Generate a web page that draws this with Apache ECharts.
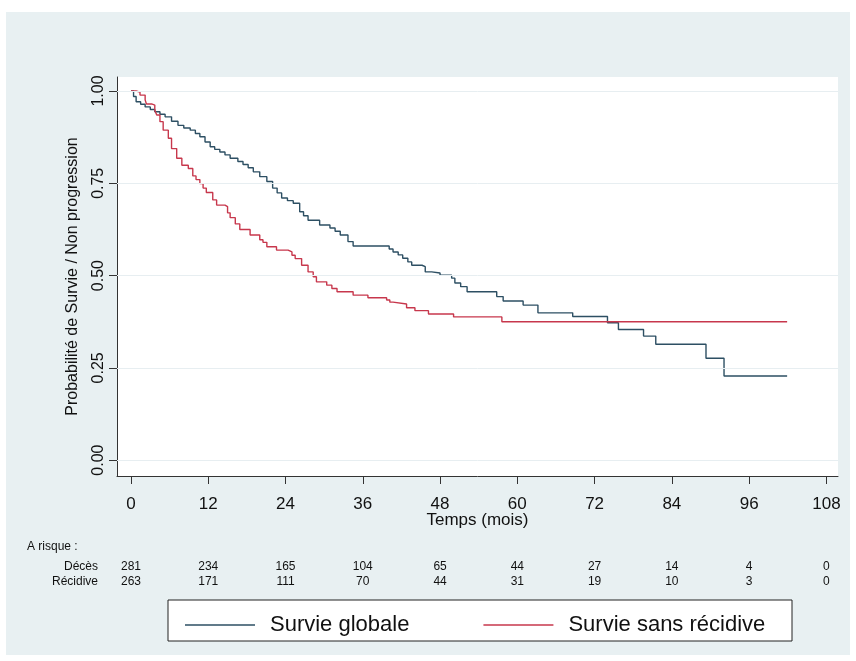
<!DOCTYPE html>
<html>
<head>
<meta charset="utf-8">
<script src="https://cdn.jsdelivr.net/npm/echarts@6/dist/echarts.min.js"></script>
<style>
html,body{margin:0;padding:0;background:#fff;}
#chart{width:856px;height:661px;}
</style>
</head>
<body>
<div id="chart"></div>
<script>
// ---- data ----
const xTicks = [0, 12, 24, 36, 48, 60, 72, 84, 96, 108];
const yTicks = [0, 0.25, 0.5, 0.75, 1];
const yTickLabels = ['0.00', '0.25', '0.50', '0.75', '1.00'];
const atRiskDeces = [281, 234, 165, 104, 65, 44, 27, 14, 4, 0];
const atRiskRecidive = [263, 171, 111, 70, 44, 31, 19, 10, 3, 0];
const seriesNames = ['Survie globale', 'Survie sans récidive'];
const survieGlobale = [
  [0, 1.0], [0.4, 0.985], [0.8, 0.971], [1.5, 0.964], [2.2, 0.957], [3.0, 0.950], [3.7, 0.944],
  [4.5, 0.937], [5.3, 0.930], [6.3, 0.918], [7.3, 0.907],
  [8.2, 0.900], [9.2, 0.894], [10.0, 0.885], [10.7, 0.876], [11.5, 0.862], [12.3, 0.849], [13.0, 0.842],
  [13.8, 0.835], [14.6, 0.827], [15.4, 0.818],
  [16.6, 0.809], [17.4, 0.801], [18.2, 0.792], [19.0, 0.781], [20.0, 0.768], [21.1, 0.755],
  [22.0, 0.737], [22.7, 0.724], [23.4, 0.710], [24.3, 0.703], [25.2, 0.696], [26.2, 0.673], [26.8, 0.662],
  [27.5, 0.650], [29.3, 0.637], [30.9, 0.629], [31.7, 0.620], [32.5, 0.610], [33.7, 0.592],
  [34.5, 0.580], [40.1, 0.572], [40.7, 0.564], [41.5, 0.556], [42.2, 0.547], [43.0, 0.537],
  [43.6, 0.528], [45.2, 0.524], [45.7, 0.510], [46.7, 0.507], [48.0, 0.501], [49.8, 0.493],
  [50.3, 0.480], [51.2, 0.470], [52.2, 0.456], [56.8, 0.443], [57.8, 0.431], [60.9, 0.420],
  [63.2, 0.399], [68.6, 0.389], [74.0, 0.372], [75.7, 0.354], [79.6, 0.336], [81.5, 0.314],
  [89.3, 0.276], [92.1, 0.228], [101.9, 0.228]
];
const survieSansRecidive = [
  [0, 1.0], [0.8, 0.997], [1.4, 0.989], [2.2, 0.976], [2.4, 0.965], [3.2, 0.962], [3.7, 0.948],
  [4.0, 0.935], [4.5, 0.917], [5.0, 0.894], [5.8, 0.872], [6.3, 0.844], [7.1, 0.818], [7.9, 0.799],
  [8.9, 0.790], [9.6, 0.770], [10.1, 0.760], [10.7, 0.749], [11.2, 0.737], [11.7, 0.725],
  [12.7, 0.705], [13.3, 0.691], [14.6, 0.687], [15.0, 0.670], [15.4, 0.657], [16.2, 0.640],
  [16.9, 0.625], [18.5, 0.610], [20.0, 0.597], [20.5, 0.590], [21.1, 0.578], [22.6, 0.569],
  [24.4, 0.564], [25.0, 0.555], [25.5, 0.546], [26.5, 0.528], [27.5, 0.510], [28.3, 0.497],
  [28.8, 0.483], [30.4, 0.474], [31.2, 0.465], [32.0, 0.456], [34.5, 0.447], [36.8, 0.440],
  [39.7, 0.434], [40.2, 0.428], [40.7, 0.423], [42.8, 0.413], [44.1, 0.405], [46.2, 0.396],
  [50.1, 0.388], [57.6, 0.375], [101.9, 0.375]
];

// ---- chart ----
const FONT = '"Liberation Sans", Arial, Helvetica, sans-serif';
const X_MIN = -2.17, X_MAX = 109.8;
const Y_MIN = -0.043, Y_MAX = 1.038;
const BLUE = '#2d4f63', RED = '#c7374c';

const chart = echarts.init(document.getElementById('chart'), null, {renderer: 'canvas'});

function riskAxis(values, offset) {
  return {
    type: 'value', gridIndex: 0, position: 'bottom', offset: offset,
    min: X_MIN, max: X_MAX,
    axisLine: {show: false}, axisTick: {show: false}, splitLine: {show: false},
    axisLabel: {
      customValues: xTicks, margin: 0, fontSize: 12, fontFamily: FONT, color: '#111',
      formatter: v => String(values[xTicks.indexOf(v)])
    }
  };
}

const option = {
  animation: false,
  backgroundColor: '#ffffff',
  textStyle: {fontFamily: FONT},
  graphic: [
    {type: 'rect', z: -100, silent: true, shape: {x: 6, y: 12, width: 844, height: 643}, style: {fill: '#e8f0f2'}},
    {type: 'rect', z: 1, silent: true, shape: {x: 168, y: 600, width: 624, height: 41}, style: {fill: '#ffffff', stroke: '#222', lineWidth: 1}},
    {type: 'text', z: 5, left: 27, top: 541, style: {text: 'A risque :', font: '12px ' + FONT, fill: '#111'}},
    {type: 'text', z: 5, right: 856 - 98, top: 561, style: {text: 'Décès', font: '12px ' + FONT, fill: '#111', textAlign: 'right'}},
    {type: 'text', z: 5, right: 856 - 98, top: 576, style: {text: 'Récidive', font: '12px ' + FONT, fill: '#111', textAlign: 'right'}}
  ],
  legend: {
    z: 10,
    left: 180, top: 609,
    icon: 'rect', itemWidth: 70, itemHeight: 1.5, itemGap: 74,
    textStyle: {fontSize: 22, fontFamily: FONT, color: '#111', padding: [0, 0, 0, 10]},
    data: seriesNames
  },
  grid: {left: 117, top: 77, right: 18, bottom: 185, show: true, backgroundColor: '#ffffff', borderWidth: 0},
  xAxis: [
    {
      type: 'value', gridIndex: 0, position: 'bottom', min: X_MIN, max: X_MAX,
      name: 'Temps (mois)', nameLocation: 'middle', nameGap: 36, nameMoveOverlap: false,
      nameTextStyle: {fontSize: 17, fontFamily: FONT, color: '#111'},
      axisLine: {show: true, onZero: false, lineStyle: {color: '#333', width: 1}},
      axisTick: {show: true, customValues: xTicks, length: 8, lineStyle: {color: '#333'}},
      axisLabel: {customValues: xTicks, margin: 20, fontSize: 17, fontFamily: FONT, color: '#111',
        formatter: v => String(v)},
      splitLine: {show: false}
    },
    riskAxis(atRiskDeces, 85),
    riskAxis(atRiskRecidive, 100)
  ],
  yAxis: {
    type: 'value', min: Y_MIN, max: Y_MAX,
    name: 'Probabilité de Survie / Non progression', nameLocation: 'middle', nameGap: 36,
    nameTextStyle: {fontSize: 16, fontFamily: FONT, color: '#111'},
    axisLine: {show: true, onZero: false, lineStyle: {color: '#333', width: 1}},
    axisTick: {show: true, customValues: yTicks, length: 8, lineStyle: {color: '#333'}},
    axisLabel: {customValues: yTicks, rotate: 90, margin: 10, fontSize: 16, fontFamily: FONT, color: '#111',
      formatter: v => yTickLabels[yTicks.indexOf(v)]},
    splitLine: {show: false}
  },
  series: [
    {
      name: seriesNames[0], type: 'line', step: 'end', showSymbol: false, symbol: 'none',
      data: survieGlobale, color: BLUE, lineStyle: {color: BLUE, width: 1.4}, z: 3,
      markLine: {
        silent: true, symbol: 'none', animation: false, label: {show: false},
        lineStyle: {color: '#e7eef1', width: 1, type: 'solid'},
        data: yTicks.map(v => ({yAxis: v}))
      }
    },
    {
      name: seriesNames[1], type: 'line', step: 'end', showSymbol: false, symbol: 'none',
      data: survieSansRecidive, color: RED, lineStyle: {color: RED, width: 1.4}, z: 4
    }
  ]
};
chart.setOption(option);
</script>
</body>
</html>
